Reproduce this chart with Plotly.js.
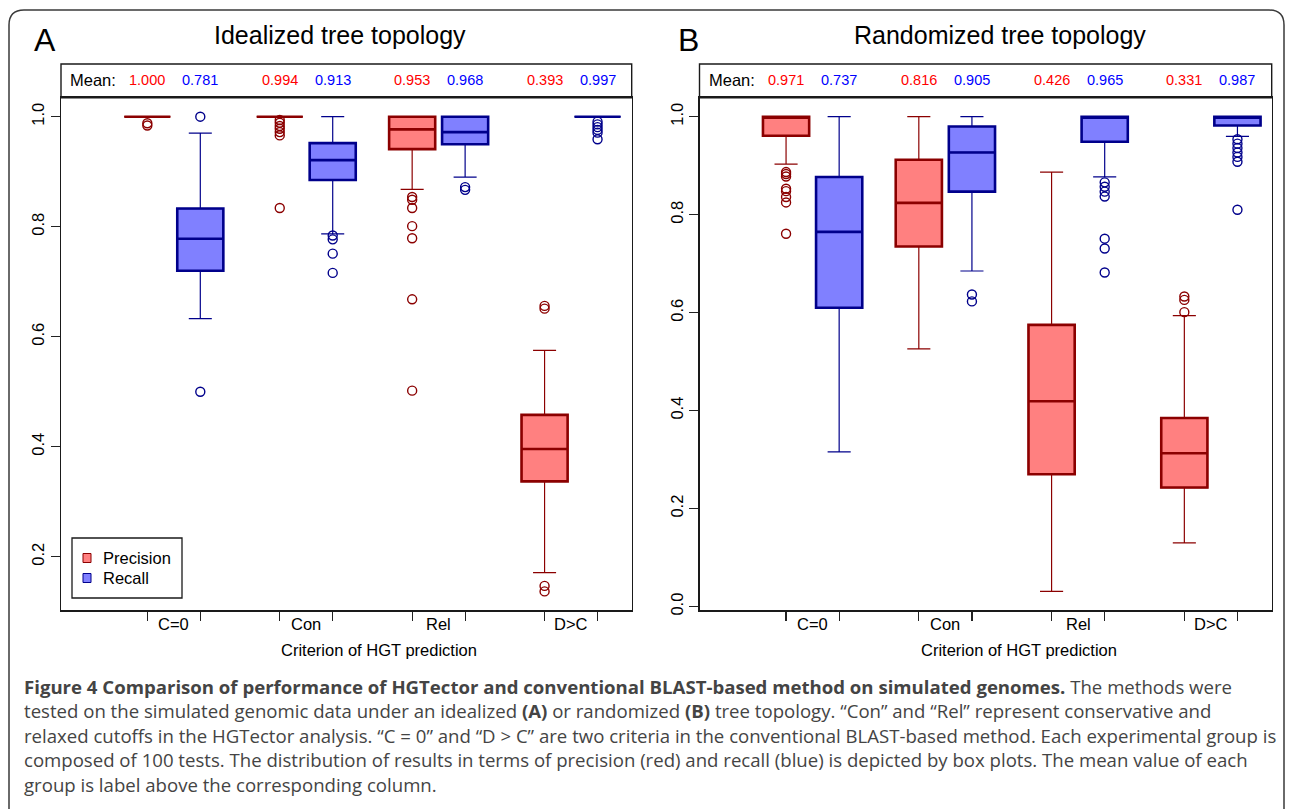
<!DOCTYPE html>
<html>
<head>
<meta charset="utf-8">
<script src="https://cdn.plot.ly/plotly-3.0.1.min.js"></script>
<style>html,body{margin:0;padding:0;background:#fff;}#chart{width:1290px;height:809px;}</style>
</head>
<body>
<div id="chart"></div>
<script>
// ---------- data ----------
const criteria = ['C=0', 'Con', 'Rel', 'D>C'];
const seriesNames = ['Precision', 'Recall'];
const panelTitles = ['Idealized tree topology', 'Randomized tree topology'];
const panelLetters = ['A', 'B'];
const xAxisTitle = 'Criterion of HGT prediction';
const yTicksA = [0.2, 0.4, 0.6, 0.8, 1.0];
const yTicksB = [0.0, 0.2, 0.4, 0.6, 0.8, 1.0];

// Panel A – idealized, precision
const aPrecLow  = [1.000, 1.000, 0.868, 0.171];
const aPrecQ1   = [1.000, 1.000, 0.941, 0.337];
const aPrecMed  = [1.000, 1.000, 0.977, 0.396];
const aPrecQ3   = [1.000, 1.000, 1.000, 0.458];
const aPrecHigh = [1.000, 1.000, 1.000, 0.575];
const aPrecOut  = [[0.988, 0.984],
                   [0.994, 0.989, 0.983, 0.978, 0.972, 0.966, 0.834],
                   [0.854, 0.849, 0.834, 0.801, 0.779, 0.668, 0.502],
                   [0.656, 0.651, 0.147, 0.137]];
const aPrecMean = [1.000, 0.994, 0.953, 0.393];
// Panel A – idealized, recall
const aRecLow  = [0.633, 0.787, 0.890, 1.000];
const aRecQ1   = [0.720, 0.885, 0.950, 1.000];
const aRecMed  = [0.778, 0.921, 0.972, 1.000];
const aRecQ3   = [0.833, 0.952, 1.000, 1.000];
const aRecHigh = [0.970, 1.000, 1.000, 1.000];
const aRecOut  = [[1.000, 0.500],
                  [0.784, 0.777, 0.751, 0.716],
                  [0.872, 0.867],
                  [0.991, 0.986, 0.981, 0.976, 0.971, 0.959]];
const aRecMean = [0.781, 0.913, 0.968, 0.997];

// Panel B – randomized, precision
const bPrecLow  = [0.903, 0.526, 0.031, 0.130];
const bPrecQ1   = [0.961, 0.735, 0.270, 0.243];
const bPrecMed  = [1.000, 0.824, 0.419, 0.313];
const bPrecQ3   = [1.000, 0.912, 0.575, 0.385];
const bPrecHigh = [1.000, 1.000, 0.887, 0.594];
const bPrecOut  = [[0.887, 0.883, 0.878, 0.853, 0.848, 0.836, 0.825, 0.761],
                   [],
                   [],
                   [0.633, 0.626, 0.601]];
const bPrecMean = [0.971, 0.816, 0.426, 0.331];
// Panel B – randomized, recall
const bRecLow  = [0.316, 0.685, 0.877, 0.960];
const bRecQ1   = [0.610, 0.847, 0.949, 0.982];
const bRecMed  = [0.765, 0.927, 1.000, 1.000];
const bRecQ3   = [0.877, 0.980, 1.000, 1.000];
const bRecHigh = [1.000, 1.000, 1.000, 1.000];
const bRecOut  = [[],
                  [0.637, 0.623],
                  [0.866, 0.857, 0.847, 0.837, 0.751, 0.731, 0.682],
                  [0.954, 0.945, 0.936, 0.927, 0.918, 0.908, 0.810]];
const bRecMean = [0.737, 0.905, 0.965, 0.987];

const captionLines = [
  '<b>Figure 4 Comparison of performance of HGTector and conventional BLAST-based method on simulated genomes.</b> The methods were',
  'tested on the simulated genomic data under an idealized <b>(A)</b> or randomized <b>(B)</b> tree topology. “Con” and “Rel” represent conservative and',
  'relaxed cutoffs in the HGTector analysis. “C = 0” and “D &gt; C” are two criteria in the conventional BLAST-based method. Each experimental group is',
  'composed of 100 tests. The distribution of results in terms of precision (red) and recall (blue) is depicted by box plots. The mean value of each',
  'group is label above the corresponding column.'
];

// ---------- styling / layout helpers ----------
const W = 1290, H = 809;
const PX = v => v / W;
const PY = v => 1 - v / H;
const FONT = 'Liberation Sans, Arial, sans-serif';
const styles = [
  {fill: '#FF8080', line: '#8B0000', text: '#FF0000'},
  {fill: '#8080FF', line: '#00008B', text: '#0000FF'}
];
const pos = (g, s) => 1 + 2.5 * g + s;
const BOXW = 0.87;

const panels = [
  {xa: 'x', ya: 'y', left: 61, right: 631.7,
   series: [
     {low: aPrecLow, q1: aPrecQ1, med: aPrecMed, q3: aPrecQ3, high: aPrecHigh, out: aPrecOut, mean: aPrecMean},
     {low: aRecLow, q1: aRecQ1, med: aRecMed, q3: aRecQ3, high: aRecHigh, out: aRecOut, mean: aRecMean}]},
  {xa: 'x2', ya: 'y2', left: 699.5, right: 1271.7,
   series: [
     {low: bPrecLow, q1: bPrecQ1, med: bPrecMed, q3: bPrecQ3, high: bPrecHigh, out: bPrecOut, mean: bPrecMean},
     {low: bRecLow, q1: bRecQ1, med: bRecMed, q3: bRecQ3, high: bRecHigh, out: bRecOut, mean: bRecMean}]}
];

const traces = [];
const annotations = [];
const shapes = [];

panels.forEach((p, pi) => {
  p.series.forEach((s, si) => {
    const st = styles[si];
    const xs = criteria.map((c, g) => pos(g, si));
    // thin layer: whiskers, caps, fill
    traces.push({
      type: 'box', orientation: 'v', xaxis: p.xa, yaxis: p.ya, name: seriesNames[si],
      x: xs, q1: s.q1, median: s.med, q3: s.q3, lowerfence: s.low, upperfence: s.high,
      width: BOXW, whiskerwidth: 0.5, fillcolor: st.fill,
      line: {color: st.line, width: 1.2}, boxpoints: false, hoverinfo: 'skip', showlegend: false
    });
    // thick layer: box border and median
    traces.push({
      type: 'box', orientation: 'v', xaxis: p.xa, yaxis: p.ya, name: seriesNames[si],
      x: xs, q1: s.q1, median: s.med, q3: s.q3, lowerfence: s.q1, upperfence: s.q3,
      width: BOXW, whiskerwidth: 0, fillcolor: 'rgba(0,0,0,0)',
      line: {color: st.line, width: 2.6}, boxpoints: false, hoverinfo: 'skip', showlegend: false
    });
    // outliers
    const ox = [], oy = [];
    s.out.forEach((arr, g) => arr.forEach(v => { ox.push(pos(g, si)); oy.push(v); }));
    traces.push({
      type: 'scatter', mode: 'markers', xaxis: p.xa, yaxis: p.ya, x: ox, y: oy,
      marker: {symbol: 'circle-open', size: 9, color: st.line, line: {width: 1.4, color: st.line}},
      hoverinfo: 'skip', showlegend: false
    });
    // mean labels
    s.mean.forEach((m, g) => {
      annotations.push({xref: p.xa, yref: 'paper', x: pos(g, si), y: PY(80.5),
        text: m.toFixed(3), showarrow: false, xanchor: 'center', yanchor: 'middle',
        font: {family: FONT, size: 14.5, color: st.text}});
    });
  });
  // header box
  shapes.push({type: 'rect', xref: 'paper', yref: 'paper', x0: PX(p.left), x1: PX(p.right),
    y0: PY(97.7), y1: PY(64), line: {color: '#1a1a1a', width: 1.4}, fillcolor: 'rgba(0,0,0,0)'});
  annotations.push({xref: 'paper', yref: 'paper', x: PX(p.left + 7), y: PY(80.5), text: 'Mean:',
    showarrow: false, xanchor: 'left', yanchor: 'middle', font: {family: FONT, size: 16.5, color: '#000'}});
  // category labels
  criteria.forEach((c, g) => {
    annotations.push({xref: p.xa, yref: 'paper', x: (pos(g, 0) + pos(g, 1)) / 2, y: PY(624),
      text: c, showarrow: false, xanchor: 'center', yanchor: 'middle',
      font: {family: FONT, size: 16.5, color: '#000'}});
  });
  // x axis title
  annotations.push({xref: 'paper', yref: 'paper', x: PX(pi === 0 ? 379 : 1019), y: PY(650),
    text: xAxisTitle, showarrow: false, xanchor: 'center', yanchor: 'middle',
    font: {family: FONT, size: 16.5, color: '#000'}});
});

// panel letters and titles
annotations.push({xref: 'paper', yref: 'paper', x: PX(32), y: PY(40), text: panelLetters[0], showarrow: false,
  xanchor: 'left', yanchor: 'middle', font: {family: FONT, size: 32, color: '#000'}});
annotations.push({xref: 'paper', yref: 'paper', x: PX(676), y: PY(40), text: panelLetters[1], showarrow: false,
  xanchor: 'left', yanchor: 'middle', font: {family: FONT, size: 32, color: '#000'}});
annotations.push({xref: 'paper', yref: 'paper', x: PX(340), y: PY(35), text: panelTitles[0], showarrow: false,
  xanchor: 'center', yanchor: 'middle', font: {family: FONT, size: 25, color: '#000'}});
annotations.push({xref: 'paper', yref: 'paper', x: PX(1000), y: PY(35), text: panelTitles[1], showarrow: false,
  xanchor: 'center', yanchor: 'middle', font: {family: FONT, size: 25, color: '#000'}});

// legend (panel A)
shapes.push({type: 'rect', xref: 'paper', yref: 'paper', x0: PX(72), x1: PX(182), y0: PY(598), y1: PY(538),
  line: {color: '#1a1a1a', width: 1.3}, fillcolor: '#fff'});
seriesNames.forEach((n, i) => {
  const cy = 558 + 20 * i;
  shapes.push({type: 'rect', xref: 'paper', yref: 'paper', x0: PX(83), x1: PX(91), y0: PY(cy + 4.5), y1: PY(cy - 4.5),
    line: {color: styles[i].line, width: 1}, fillcolor: styles[i].fill});
  annotations.push({xref: 'paper', yref: 'paper', x: PX(101), y: PY(cy), text: n, showarrow: false,
    xanchor: 'left', yanchor: 'middle', font: {family: FONT, size: 16.5, color: '#000'}});
});

// figure frame
const fr = 15;
shapes.push({type: 'path', xref: 'paper', yref: 'paper',
  path: `M ${PX(9)},${PY(809)} L ${PX(9)},${PY(10 + fr)} Q ${PX(9)},${PY(10)} ${PX(9 + fr)},${PY(10)} ` +
        `L ${PX(1284 - fr)},${PY(10)} Q ${PX(1284)},${PY(10)} ${PX(1284)},${PY(10 + fr)} L ${PX(1284)},${PY(809)}`,
  line: {color: '#3a3a3a', width: 1.5}});

// caption
const capY = [686, 710.5, 735, 759.5, 784];
captionLines.forEach((t, i) => {
  annotations.push({xref: 'paper', yref: 'paper', x: PX(22), y: PY(capY[i]), text: t, showarrow: false,
    xanchor: 'left', yanchor: 'middle', align: 'left',
    font: {family: 'Open Sans, sans-serif', size: 18.6, color: '#444'}});
});

function xAxis(p, anchor) {
  const tv = [];
  criteria.forEach((c, g) => { tv.push(pos(g, 0)); tv.push(pos(g, 1)); });
  return {domain: [PX(p.left), PX(p.right)], range: [-0.63, 10.145], anchor: anchor,
    tickvals: tv, showticklabels: false, ticks: 'outside', ticklen: 9, tickwidth: 1.2, tickcolor: '#222',
    showline: true, mirror: true, linecolor: '#1a1a1a', linewidth: 1.4, showgrid: false, zeroline: false,
    fixedrange: true};
}
function yAxis(range, ticks, anchor) {
  return {domain: [PY(610.4), PY(97.7)], range: range, anchor: anchor,
    tickvals: ticks, tickformat: '.1f', tickangle: -90, ticks: 'outside', ticklen: 9, tickwidth: 1.2,
    tickcolor: '#222', tickfont: {family: FONT, size: 16.5, color: '#000'},
    showline: true, mirror: true, linecolor: '#1a1a1a', linewidth: 1.4, showgrid: false, zeroline: false,
    fixedrange: true};
}

const layout = {
  width: W, height: H,
  margin: {l: 0, r: 0, t: 0, b: 0, pad: 0},
  paper_bgcolor: '#fff', plot_bgcolor: '#fff',
  boxmode: 'overlay',
  showlegend: false,
  xaxis: xAxis(panels[0], 'y'),
  yaxis: yAxis([0.1025, 1.0345], yTicksA, 'x'),
  xaxis2: xAxis(panels[1], 'y2'),
  yaxis2: yAxis([-0.0078, 1.0388], yTicksB, 'x2'),
  shapes: shapes,
  annotations: annotations,
  font: {family: FONT}
};

Plotly.newPlot('chart', traces, layout, {staticPlot: true, displayModeBar: false});
</script>
</body>
</html>
